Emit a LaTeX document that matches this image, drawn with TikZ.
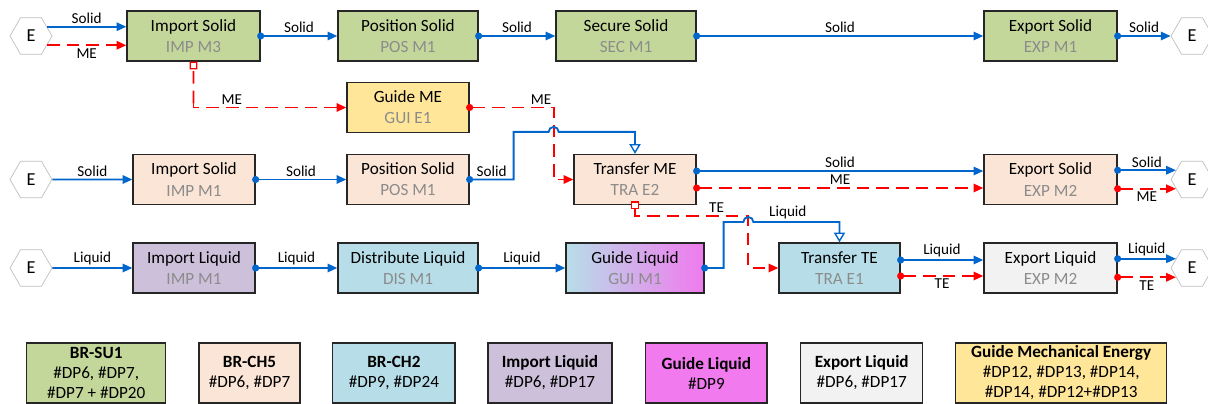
\documentclass[tikz,border=0pt]{standalone}
\usepackage{fontspec}
\setmainfont{Carlito}
\usetikzlibrary{arrows.meta,positioning,calc,shapes.geometric}
\definecolor{flowblue}{HTML}{0066CC}
\definecolor{flowred}{HTML}{FF0000}
\definecolor{subgray}{HTML}{8C8C8C}
\definecolor{olivebox}{HTML}{C4D79B}
\definecolor{peachbox}{HTML}{FBE5D6}
\definecolor{sunbox}{HTML}{FFE699}
\definecolor{aquabox}{HTML}{B7DEE8}
\definecolor{lilacbox}{HTML}{CCC0DA}
\definecolor{pinkbox}{HTML}{F07AEE}
\definecolor{greybox}{HTML}{F2F2F2}
\newcommand{\fcode}[1]{{\color{subgray}#1}}

\begin{document}
\begin{tikzpicture}[x=0.025cm, y=0.025cm, every node/.style={font=\fontsize{12.2}{15}\selectfont},
    blk/.style={draw=black!85, line width=0.9pt, minimum height=1.25cm, align=center, inner sep=0pt},
    hexa/.style={regular polygon, regular polygon sides=6, draw=black!25, line width=0.5pt,
      minimum size=1.05cm, inner sep=0pt, font=\fontsize{13}{15}\selectfont},
    flow/.style={draw=flowblue, line width=1.3pt, -{Triangle[length=7pt,width=6pt]}},
    me/.style={draw=flowred, line width=1.3pt, dash pattern=on 9pt off 5pt, -{Triangle[length=7pt,width=6pt]}},
    dot/.style={{Circle[length=5pt]}-{Triangle[length=7pt,width=6pt]}, shorten <=-2.5pt},
    dotopen/.style={{Circle[length=5pt]}-{Triangle[open,length=7pt,width=8pt,line width=1pt]}, shorten <=-2.5pt},
    sq/.style={{Square[open,fill=white,length=5.5pt,line width=0.9pt]}-{Triangle[length=7pt,width=6pt]}, shorten <=-2.75pt},
    lbl/.style={font=\fontsize{10.8}{12}\selectfont, inner sep=1.5pt},
    leg/.style={draw=black!85, line width=0.9pt, minimum height=1.5cm, align=center, inner sep=0pt,
      font=\fontsize{12.2}{14.2}\selectfont}]
    \useasboundingbox (0,0) rectangle (1208,-403);

    \foreach \n/\x/\y/\w/\c/\t/\s in {
      imp3/193.5/36/3.325cm/olivebox/Import Solid/IMP M3,
      posa/408/36/3.5cm/olivebox/Position Solid/POS M1,
      seca/626/36/3.5cm/olivebox/Secure Solid/SEC M1,
      expa/1050.5/36/3.325cm/olivebox/Export Solid/EXP M1,
      guime/408/107.5/3.05cm/sunbox/Guide ME/GUI E1,
      imps/194/179.5/3.05cm/peachbox/Import Solid/IMP M1,
      poss/408/179.5/3.05cm/peachbox/Position Solid/POS M1,
      trame/635/179.5/3.05cm/peachbox/Transfer ME/TRA E2,
      exps/1050.5/179.5/3.325cm/peachbox/Export Solid/EXP M2,
      impl/194/268/3.05cm/lilacbox/Import Liquid/IMP M1,
      disl/408/268/3.5cm/aquabox/Distribute Liquid/DIS M1,
      trate/839.5/268/3.025cm/aquabox/Transfer TE/TRA E1,
      expl/1050.5/268/3.325cm/greybox/Export Liquid/EXP M2}{
      \node[blk, fill=\c, minimum width=\w] (\n) at (\x,-\y) {\t\\\fcode{\s}};
    }
    \node[blk, left color=aquabox, right color=pinkbox, minimum width=3.45cm] (guil) at (635,-268)
      {Guide Liquid\\\fcode{GUI M1}};

    \foreach \n/\x/\y in {ea/31/36, eb/31/179.5, ec/31/268, fa/1192/36, fb/1192/179.5, fc/1192/268}
      \node[hexa] (\n) at (\x,-\y) {E};

    \draw[flow] (ea.30) -- node[lbl, above]{Solid} (ea.30 -| imp3.west);
    \draw[me] (ea.-30) -- node[lbl, below]{ME} (ea.-30 -| imp3.west);
    \draw[flow, dot] (imp3.east) -- node[lbl, above]{Solid} (posa.west);
    \draw[flow, dot] (posa.east) -- node[lbl, above]{Solid} (seca.west);
    \draw[flow, dot] (seca.east) -- node[lbl, above]{Solid} (expa.west);
    \draw[flow, dot] (expa.east) -- node[lbl, above]{Solid} (fa.west);

    \coordinate (mecorner) at ($(imp3.south |- guime.west)+(0.01,0)$);
    \draw[me, sq, -{Square[open,fill=white,length=5.5pt,line width=0.9pt]}] ($(mecorner)+(0,8)$) -- (imp3.south);
    \draw[me, -] ($(mecorner)+(0,8)$) -- (mecorner) -- ++(2,0);
    \draw[me, {Triangle[length=7pt,width=6pt]}-] (guime.west) -- node[lbl, above, pos=0.76]{ME} ($(mecorner)+(2,0)$);

    \coordinate (mejog) at ($(guime.east)+(84,0)$);
    \draw[me, dot] (guime.east) -- node[lbl, above, pos=0.85]{ME} (mejog) |- (trame.west);
    \draw[flow, dotopen] (poss.east) -- node[lbl, above]{Solid} ++(44,0)
      |- ($(mejog |- trame.north)+(-5,22)$) arc[start angle=180, end angle=0, radius=5] -| (trame.north);
    \draw[flow] (eb.east) -- node[lbl, above]{Solid} (imps.west);
    \draw[flow, dot] (imps.east) -- node[lbl, above]{Solid} (poss.west);
    \draw[flow, dot] ($(trame.east)+(0,8.5)$) -- node[lbl, above]{Solid} ($(exps.west)+(0,8.5)$);
    \draw[me, dot] ($(trame.east)+(0,-8.5)$) -- node[lbl, above]{ME} ($(exps.west)+(0,-8.5)$);
    \draw[flow, dot] (exps.east |- fb.150) -- node[lbl, above]{Solid} (fb.150);
    \draw[me, dot] (exps.east |- fb.210) -- node[lbl, below]{ME} (fb.210);

    \coordinate (tejog) at ($(trate.west)+(-30,52)$);
    \draw[me, sq] (trame.south) |- node[lbl, above, pos=0.86]{TE} (tejog) |- (trate.west);
    \draw[flow, dotopen] (guil.east) -- ++(19,0) |- ($(tejog)+(-5,-6)$)
      arc[start angle=180, end angle=0, radius=5] -| node[lbl, above, pos=0.2]{Liquid} (trate.north);
    \draw[flow] (ec.east) -- node[lbl, above]{Liquid} (impl.west);
    \draw[flow, dot] (impl.east) -- node[lbl, above]{Liquid} (disl.west);
    \draw[flow, dot] (disl.east) -- node[lbl, above]{Liquid} (guil.west);
    \draw[flow, dot] ($(trate.east)+(0,8)$) -- node[lbl, above]{Liquid} ($(expl.west)+(0,8)$);
    \draw[me, dot] ($(trate.east)+(0,-8)$) -- node[lbl, below]{TE} ($(expl.west)+(0,-8)$);
    \draw[flow, dot] (expl.east |- fc.150) -- node[lbl, above]{Liquid} (fc.150);
    \draw[me, dot] (expl.east |- fc.210) -- node[lbl, below]{TE} (fc.210);

    \foreach \n/\x/\w/\c/\t/\s in {
      legsu/96.2/3.475cm/olivebox/BR-SU1/{\#DP6, \#DP7,\\\#DP7 + \#DP20},
      legchf/249.5/2.525cm/peachbox/BR-CH5/{\#DP6, \#DP7},
      legcht/393.9/3.06cm/aquabox/BR-CH2/{\#DP9, \#DP24},
      legimp/550/3.1cm/lilacbox/Import Liquid/{\#DP6, \#DP17},
      legguide/706.4/3.03cm/pinkbox/Guide Liquid/{\#DP9},
      legexp/861.7/3.05cm/greybox/Export Liquid/{\#DP6, \#DP17},
      leggme/1061.2/5.275cm/sunbox/Guide Mechanical Energy/{\#DP12, \#DP13, \#DP14,\\\#DP14, \#DP12+\#DP13}}{
      \node[leg, fill=\c, minimum width=\w] (\n) at (\x,-373) {\textbf{\t}\\\s};
    }
\end{tikzpicture}
\end{document}
